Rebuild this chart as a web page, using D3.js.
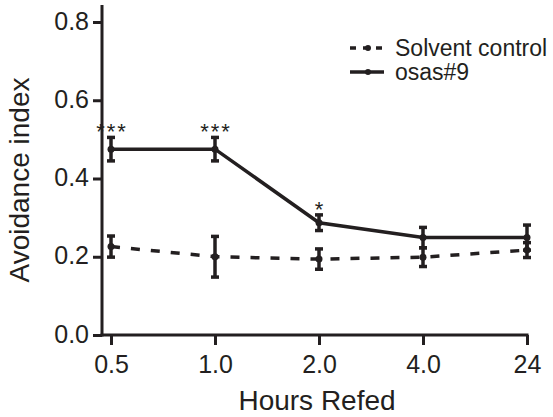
<!DOCTYPE html>
<html>
<head>
<meta charset="utf-8">
<script src="https://cdn.jsdelivr.net/npm/d3@7"></script>
<style>
  body { margin: 0; background: #fff; }
  text { font-family: "Liberation Sans", Arial, sans-serif; fill: #231f20; }
</style>
</head>
<body>
<div id="chart"></div>
<script>
var hours = ["0.5", "1.0", "2.0", "4.0", "24"];
var solvent = [0.226, 0.200, 0.194, 0.199, 0.217];
var solventErr = [0.027, 0.052, 0.026, 0.024, 0.019];
var osas = [0.475, 0.475, 0.287, 0.249, 0.249];
var osasErr = [0.030, 0.030, 0.020, 0.026, 0.032];
var stars = ["***", "***", "*", "", ""];
var yTicks = [0.0, 0.2, 0.4, 0.6, 0.8];

var width = 553, height = 417;
var ink = "#231f20";

var svg = d3.select("#chart")
  .append("svg")
  .attr("width", width)
  .attr("height", height);

var x = d3.scalePoint().domain(hours).range([111, 527]);
var y = d3.scaleLinear().domain([0, 0.8]).range([335, 22]);

// y axis
var yAxis = svg.append("g")
  .attr("transform", "translate(102,0)")
  .call(d3.axisLeft(y).tickValues(yTicks).tickFormat(d3.format(".1f")).tickSize(9).tickPadding(4));
yAxis.select(".domain").remove();
yAxis.selectAll("line").attr("stroke", ink).attr("stroke-width", 3);
yAxis.selectAll("text")
  .attr("font-size", 25).attr("dy", null).attr("y", 7)
  .style("font-family", "Liberation Sans, Arial, sans-serif").attr("fill", ink);
svg.append("line")
  .attr("x1", 102).attr("x2", 102)
  .attr("y1", 5).attr("y2", 336.5)
  .attr("stroke", ink).attr("stroke-width", 3);

// x axis
var xAxis = svg.append("g")
  .attr("transform", "translate(0,335)")
  .call(d3.axisBottom(x).tickSize(10).tickPadding(6));
xAxis.select(".domain").remove();
xAxis.selectAll("line").attr("stroke", ink).attr("stroke-width", 3);
xAxis.selectAll("text")
  .attr("font-size", 25).attr("dy", null).attr("y", 38)
  .style("font-family", "Liberation Sans, Arial, sans-serif").attr("fill", ink);
svg.append("line")
  .attr("x1", 100.5).attr("x2", 528.5)
  .attr("y1", 335).attr("y2", 335)
  .attr("stroke", ink).attr("stroke-width", 3);

// axis titles
svg.append("text")
  .attr("x", x.range()[0] / 2 + x.range()[1] / 2 - 2)
  .attr("y", 410)
  .attr("text-anchor", "middle")
  .attr("font-size", 28)
  .text("Hours Refed");

svg.append("text")
  .attr("transform", "translate(29,180) rotate(-90)")
  .attr("text-anchor", "middle")
  .attr("font-size", 28)
  .text("Avoidance index");

function drawSeries(vals, errs, dashed){
  var pts = hours.map(function(h, i){ return {h: h, v: vals[i], e: errs[i]}; });
  var line = d3.line()
    .x(function(d){ return x(d.h); })
    .y(function(d){ return y(d.v); });

  svg.append("path")
    .datum(pts)
    .attr("d", line)
    .attr("fill", "none")
    .attr("stroke", ink)
    .attr("stroke-width", 3.5)
    .attr("stroke-dasharray", dashed ? "9,11" : null);

  var bars = svg.append("g").selectAll("g")
    .data(pts)
    .enter().append("g");
  bars.append("line")
    .attr("x1", function(d){ return x(d.h); })
    .attr("x2", function(d){ return x(d.h); })
    .attr("y1", function(d){ return y(d.v - d.e); })
    .attr("y2", function(d){ return y(d.v + d.e); })
    .attr("stroke", ink).attr("stroke-width", 3.5);
  [-1, 1].forEach(function(s){
    bars.append("line")
      .attr("x1", function(d){ return x(d.h) - 4; })
      .attr("x2", function(d){ return x(d.h) + 4; })
      .attr("y1", function(d){ return y(d.v + s * d.e); })
      .attr("y2", function(d){ return y(d.v + s * d.e); })
      .attr("stroke", ink).attr("stroke-width", 3.5);
  });
  bars.append("circle")
    .attr("cx", function(d){ return x(d.h); })
    .attr("cy", function(d){ return y(d.v); })
    .attr("r", 3.5)
    .attr("fill", ink);
}

drawSeries(solvent, solventErr, true);
drawSeries(osas, osasErr, false);

// significance stars
svg.append("g").selectAll("text")
  .data(hours)
  .enter().append("text")
  .attr("x", function(d){ return x(d) + 1; })
  .attr("y", function(d, i){ return y(osas[i] + osasErr[i]) + 2; })
  .attr("text-anchor", "middle")
  .attr("font-size", 22)
  .attr("letter-spacing", 2)
  .text(function(d, i){ return stars[i]; });

// legend
var legend = [
  {name: "Solvent control", dashed: true, y: 48},
  {name: "osas#9", dashed: false, y: 72}
];
var lg = svg.append("g").selectAll("g")
  .data(legend)
  .enter().append("g");
lg.append("line")
  .attr("x1", 350).attr("x2", 384)
  .attr("y1", function(d){ return d.y; })
  .attr("y2", function(d){ return d.y; })
  .attr("stroke", ink).attr("stroke-width", 3.5)
  .attr("stroke-dasharray", function(d){ return d.dashed ? "6,7" : null; });
lg.append("circle")
  .attr("cx", 368)
  .attr("cy", function(d){ return d.y; })
  .attr("r", 3)
  .attr("fill", ink);
lg.append("text")
  .attr("x", 395)
  .attr("y", function(d){ return d.y + 8; })
  .attr("font-size", 23)
  .text(function(d){ return d.name; });
</script>
</body>
</html>
